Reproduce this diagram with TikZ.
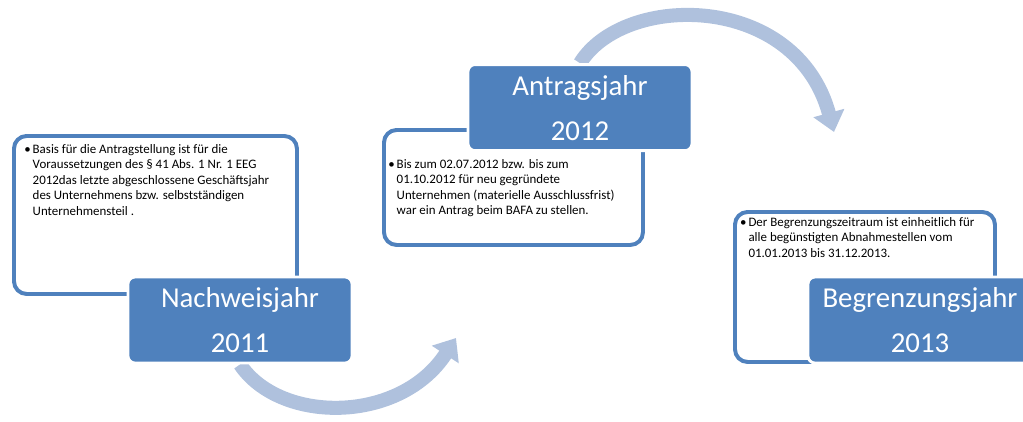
\documentclass[tikz,border=0pt]{standalone}
\usepackage{fontspec}
\setmainfont{Carlito}
\usetikzlibrary{arrows.meta,backgrounds}
\definecolor{hdrblue}{HTML}{4F81BD}
\definecolor{arcblue}{HTML}{AFC1DD}
\newcommand{\bul}{\makebox[6pt][l]{\textbullet}}
\newcommand{\bulskip}{\hspace*{6pt}}

\begin{document}
\begin{tikzpicture}[
  txtbox/.style={anchor=north west,draw=hdrblue,line width=2.8pt,fill=white,rounded corners=9pt,inner sep=0},
  txt/.style={anchor=north west,inner sep=0,align=left,font=\fontsize{9.2}{11}\selectfont},
  hdr/.style={draw=white,line width=2pt,fill=hdrblue,rounded corners=5pt,text=white,align=center,
    minimum width=5.6cm,minimum height=2.15cm,font=\fontsize{20.5}{32}\selectfont},
  arcarrow/.style={arcblue,line width=10pt,-{Triangle[width=22pt,length=14pt]}}
]

\useasboundingbox (0,0) rectangle (25.575,-10.525);

{
\begin{scope}
\node[txtbox,minimum width=7.075cm,minimum height=3.95cm] (b1) at (0.3,-3.35) {};
\node[txt] (t1) at ([xshift=0.3cm,yshift=-0.25cm]b1.north west) {\bul Basis für die Antragstellung ist für die\\
\bulskip Voraussetzungen des § 41 Abs. 1 Nr. 1 EEG\\
\bulskip 2012das letzte abgeschlossene Geschäftsjahr\\
\bulskip des Unternehmens bzw. selbstständigen\\
\bulskip Unternehmensteil .};
\node[hdr] (h1) at (6.0,-8.0) {Nachweisjahr\\2011};
\end{scope}

\begin{scope}
\node[txtbox,minimum width=6.475cm,minimum height=2.875cm] (b2) at (9.55,-3.2) {};
\node[txt] (t2) at ([xshift=0.15cm,yshift=-0.78cm]b2.north west) {\bul Bis zum 02.07.2012 bzw. bis zum\\
\bulskip 01.10.2012 für neu gegründete\\
\bulskip Unternehmen (materielle Ausschlussfrist)\\
\bulskip war ein Antrag beim BAFA zu stellen.};
\node[hdr] (h2) at (14.5,-2.69) {Antragsjahr\\2012};
\end{scope}

\begin{scope}
\node[txtbox,minimum width=6.5cm,minimum height=3.75cm] (b3) at (18.325,-5.25) {};
\node[txt] (t3) at ([xshift=0.17cm,yshift=-0.18cm]b3.north west) {\bul Der Begrenzungszeitraum ist einheitlich für\\
\bulskip alle begünstigten Abnahmestellen vom\\
\bulskip 01.01.2013 bis 31.12.2013.};
\node[hdr] (h3) at (23.0,-8.0) {Begrenzungsjahr\\2013};
\end{scope}

% curved arrows behind the boxes
\coordinate (e1) at (11.4,-8.45);
\coordinate (e2) at (20.85,-3.3);
\begin{scope}[on background layer]
\draw[arcarrow] (h1.south) .. controls (7.0,-10.6) and (10.0,-10.6) .. (e1);
\draw[arcarrow] (h2.north) .. controls (15.6,0.2) and (19.9,0.2) .. (e2);
\end{scope}
}

\end{tikzpicture}
\end{document}
